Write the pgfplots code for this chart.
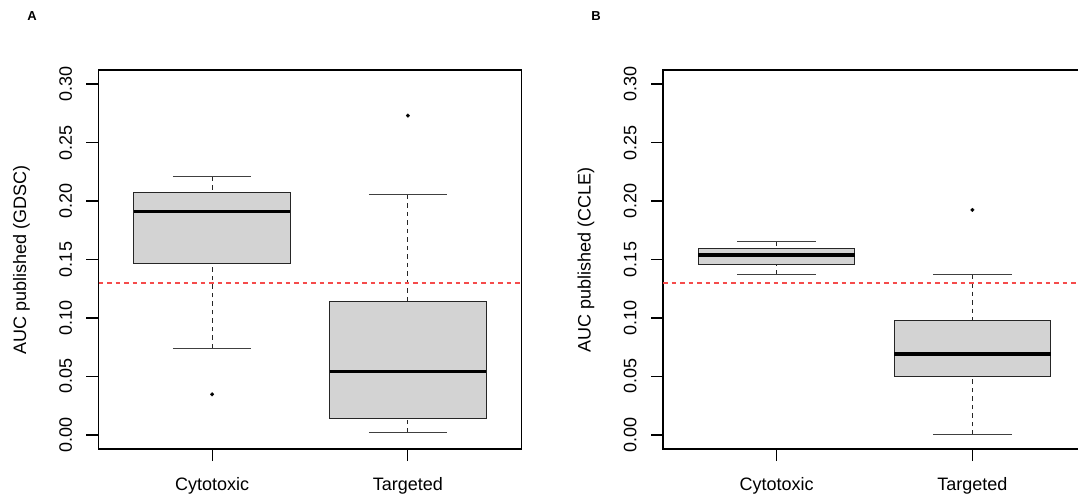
\documentclass[border=0pt]{standalone}
\usepackage{pgfplots}
\pgfplotsset{compat=1.18}
\usepgfplotslibrary{statistics}
\usepackage{fontspec}
\setmainfont{Liberation Sans}
\definecolor{boxfill}{RGB}{211,211,211}
\definecolor{refred}{RGB}{245,75,75}
\newcommand{\rfont}{\fontsize{18bp}{21bp}\selectfont}
\pgfplotsset{
  rbox/.style={
    scale only axis, width=423bp, height=379bp,
    xmin=0.42, xmax=2.58, ymin=-0.012, ymax=0.312,
    axis line style={line width=1.1bp, black},
    tick align=outside, major tick length=12bp,
    tick style={line width=1.1bp, black},
    xtick pos=bottom, ytick pos=left,
    xtick={1,2}, xticklabels={Cytotoxic,Targeted},
    ytick={0,0.05,0.1,0.15,0.2,0.25,0.3},
    yticklabels={0.00,0.05,0.10,0.15,0.20,0.25,0.30},
    yticklabel style={rotate=90, anchor=south},
    yticklabel shift=11bp, xticklabel shift=13bp,
    tick label style={font=\rfont},
    /pgf/number format/assume math mode=true,
    every axis y label/.style={at={(axis description cs:-0.182,0.5)}, rotate=90, anchor=center, font=\rfont},
    boxplot/draw direction=y,
    boxplot/every box/.style={fill=boxfill, draw=black!85, line width=1bp},
    boxplot/every median/.style={line width=3.3bp, black},
    boxplot/draw/lower whisker/.code={%
      \draw[black!85, line width=1bp, dash pattern=on 4.5bp off 4bp]
        (boxplot box cs:\pgfplotsboxplotvalue{lower whisker},0.5) --
        (boxplot box cs:\pgfplotsboxplotvalue{lower quartile},0.5);
      \draw[black!75, line width=1bp]
        (boxplot whisker cs:\pgfplotsboxplotvalue{lower whisker},0) --
        (boxplot whisker cs:\pgfplotsboxplotvalue{lower whisker},1);
    },
    boxplot/draw/upper whisker/.code={%
      \draw[black!85, line width=1bp, dash pattern=on 4.5bp off 4bp]
        (boxplot box cs:\pgfplotsboxplotvalue{upper whisker},0.5) --
        (boxplot box cs:\pgfplotsboxplotvalue{upper quartile},0.5);
      \draw[black!75, line width=1bp]
        (boxplot whisker cs:\pgfplotsboxplotvalue{upper whisker},0) --
        (boxplot whisker cs:\pgfplotsboxplotvalue{upper whisker},1);
    },
  },
  rplot/.style={black, mark=*, mark size=1.9bp, mark options={fill=black, draw=black, line width=0.2bp}},
  refline/.style={refred, line width=1.3bp, dash pattern=on 4.5bp off 4bp},
}
\begin{document}
\begin{tikzpicture}
\useasboundingbox (0,0) rectangle (1078bp,502bp);
\clip (0,0) rectangle (1078bp,502bp);
% Panel A
\begin{axis}[rbox, at={(98.5bp,53bp)}, anchor=south west, ylabel={AUC published (GDSC)}]
\addplot[rplot, boxplot prepared={lower whisker=0.0741, lower quartile=0.1467, median=0.1910, upper quartile=0.2070, upper whisker=0.2207, draw position=1, box extend=0.8, whisker extend=0.4}] coordinates {(1,0.0347)};
\addplot[rplot, boxplot prepared={lower whisker=0.0021, lower quartile=0.0141, median=0.0542, upper quartile=0.1144, upper whisker=0.2053, draw position=2, box extend=0.8, whisker extend=0.4}] coordinates {(2,0.2730)};
\addplot[refline] coordinates {(0.42,0.13) (2.58,0.13)};
\end{axis}
% Panel B
\begin{axis}[rbox, at={(663bp,53bp)}, anchor=south west, ylabel={AUC published (CCLE)}]
\addplot[rplot, boxplot prepared={lower whisker=0.1373, lower quartile=0.1455, median=0.1539, upper quartile=0.1593, upper whisker=0.1650, draw position=1, box extend=0.8, whisker extend=0.4}] coordinates {};
\addplot[rplot, boxplot prepared={lower whisker=0.0, lower quartile=0.0504, median=0.0693, upper quartile=0.0975, upper whisker=0.1370, draw position=2, box extend=0.8, whisker extend=0.4}] coordinates {(2,0.1924)};
\addplot[refline] coordinates {(0.42,0.13) (2.58,0.13)};
\end{axis}
\node[font=\bfseries\fontsize{13bp}{15bp}\selectfont] at (32bp,485.5bp) {A};
\node[font=\bfseries\fontsize{13bp}{15bp}\selectfont] at (596bp,485.5bp) {B};
\end{tikzpicture}
\end{document}
